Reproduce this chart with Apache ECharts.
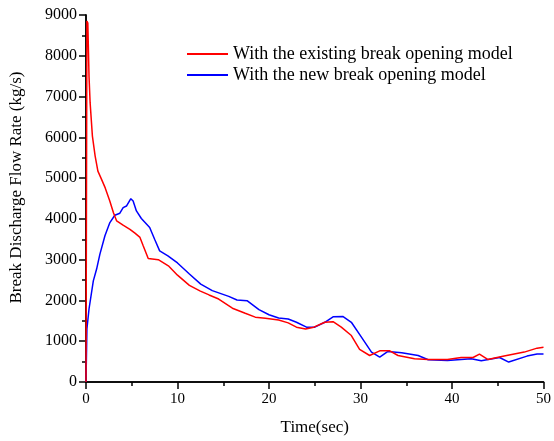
<!DOCTYPE html>
<html>
<head>
<meta charset="utf-8">
<script src="https://cdn.jsdelivr.net/npm/echarts@6/dist/echarts.min.js"></script>
<style>html,body{margin:0;padding:0;background:#fff}#c{width:554px;height:441px}</style>
</head>
<body>
<div id="c"></div>
<script>
var seriesNames = ['With the existing break opening model', 'With the new break opening model'];
var timeExisting = [0,0.1,0.2,0.33,0.45,0.7,1.0,1.3,1.7,2.1,2.6,3.0,3.35,4.05,4.8,5.35,5.9,6.25,6.8,7.9,9.0,10.0,11.3,12.5,13.45,14.5,16.0,17.4,18.5,19.6,21.05,22.1,23.0,24.0,24.9,26.1,27.0,27.9,29.0,29.9,31.0,32.1,33.2,34.1,35.9,37.4,39.5,41.0,42.3,43.0,43.9,45.7,47.9,49.3,50];
var flowExisting = [0,8850,8800,7500,6850,6030,5540,5170,4970,4760,4440,4150,3950,3845,3745,3650,3545,3340,3030,3000,2850,2620,2370,2230,2135,2035,1810,1685,1590,1565,1520,1450,1345,1300,1345,1465,1480,1345,1140,800,650,765,765,650,570,553,553,600,600,685,553,635,733,830,855];
var timeNew = [0,0.1,0.33,0.8,1.16,1.52,2.07,2.61,3.15,3.7,4.06,4.42,4.9,5.15,5.51,6.05,6.96,7.5,8.05,8.95,10.0,11.3,12.54,13.8,15.6,16.5,17.6,18.9,20.0,21.05,22.1,23.0,24.1,25.0,26.1,27.0,28.1,29.0,30.1,31.2,32.1,33.0,34.5,36.3,37.4,39.5,42.1,43.2,45.2,46.2,48.2,49.3,50];
var flowNew = [0,1300,1790,2480,2770,3135,3585,3910,4090,4140,4275,4315,4495,4440,4195,4010,3790,3500,3215,3095,2920,2650,2400,2240,2100,2010,1995,1775,1650,1570,1545,1465,1345,1345,1465,1600,1605,1465,1100,733,610,750,715,650,545,528,570,520,600,489,635,685,685];
var xTicks = [0,10,20,30,40,50];
var yTicks = [0,1000,2000,3000,4000,5000,6000,7000,8000,9000];

function pairs(t, v){ return t.map(function(x,i){ return [x, v[i]]; }); }

var font = 'Liberation Serif';
var axisLineStyle = {color:'#000', width:1.5};
var chart = echarts.init(document.getElementById('c'), null, {renderer:'canvas'});
chart.setOption({
  animation:false,
  backgroundColor:'#fff',
  grid:{left:86, right:8, top:15, bottom:58, containLabel:false},
  legend:{
    orient:'vertical', left:182, top:40, icon:'rect', itemWidth:41, itemHeight:2, itemGap:3,
    textStyle:{fontFamily:font, fontSize:18, color:'#000'},
    data:seriesNames
  },
  xAxis:[{
    type:'value', min:xTicks[0], max:xTicks[xTicks.length-1], interval:10, position:'bottom',
    name:'Time(sec)', nameLocation:'middle', nameGap:37,
    nameTextStyle:{fontFamily:font, fontSize:17, color:'#000'},
    axisLine:{show:true, lineStyle:axisLineStyle},
    axisTick:{show:true, inside:false, length:7, lineStyle:{color:'#000', width:1.5}},
    minorTick:{show:true, splitNumber:2, length:4, lineStyle:{color:'#000', width:1.5}},
    axisLabel:{fontFamily:font, fontSize:15, color:'#000', margin:10},
    splitLine:{show:false}
  },{
    type:'value', min:0, max:50, interval:10, position:'top',
    axisLine:{show:true, lineStyle:axisLineStyle},
    axisTick:{show:true, inside:true, length:7, lineStyle:{color:'#000', width:1.5}},
    minorTick:{show:true, splitNumber:2, length:4, lineStyle:{color:'#000', width:1.5}},
    axisLabel:{show:false}, splitLine:{show:false}
  }],
  yAxis:[{
    type:'value', min:yTicks[0], max:yTicks[yTicks.length-1], interval:1000, position:'left',
    name:'Break Discharge Flow Rate (kg/s)', nameLocation:'middle', nameGap:61,
    nameTextStyle:{fontFamily:font, fontSize:17, color:'#000', padding:[0,0,0,22]},
    axisLine:{show:true, lineStyle:axisLineStyle},
    axisTick:{show:true, inside:false, length:7, lineStyle:{color:'#000', width:1.5}},
    minorTick:{show:true, splitNumber:2, length:4, lineStyle:{color:'#000', width:1.5}},
    axisLabel:{fontFamily:font, fontSize:16, color:'#000', margin:9, formatter:function(v){return String(v);}},
    splitLine:{show:false}
  },{
    type:'value', min:0, max:9000, interval:1000, position:'right',
    axisLine:{show:true, lineStyle:axisLineStyle},
    axisTick:{show:true, inside:true, length:7, lineStyle:{color:'#000', width:1.5}},
    minorTick:{show:true, splitNumber:2, length:4, lineStyle:{color:'#000', width:1.5}},
    axisLabel:{show:false}, splitLine:{show:false}
  }],
  series:[{
    name:seriesNames[0], type:'line', data:pairs(timeExisting, flowExisting),
    symbol:'none', lineStyle:{color:'#ff0000', width:1.5}, itemStyle:{color:'#ff0000'}, z:3
  },{
    name:seriesNames[1], type:'line', data:pairs(timeNew, flowNew),
    symbol:'none', lineStyle:{color:'#0000ff', width:1.5}, itemStyle:{color:'#0000ff'}, z:2
  }]
});
</script>
</body>
</html>
